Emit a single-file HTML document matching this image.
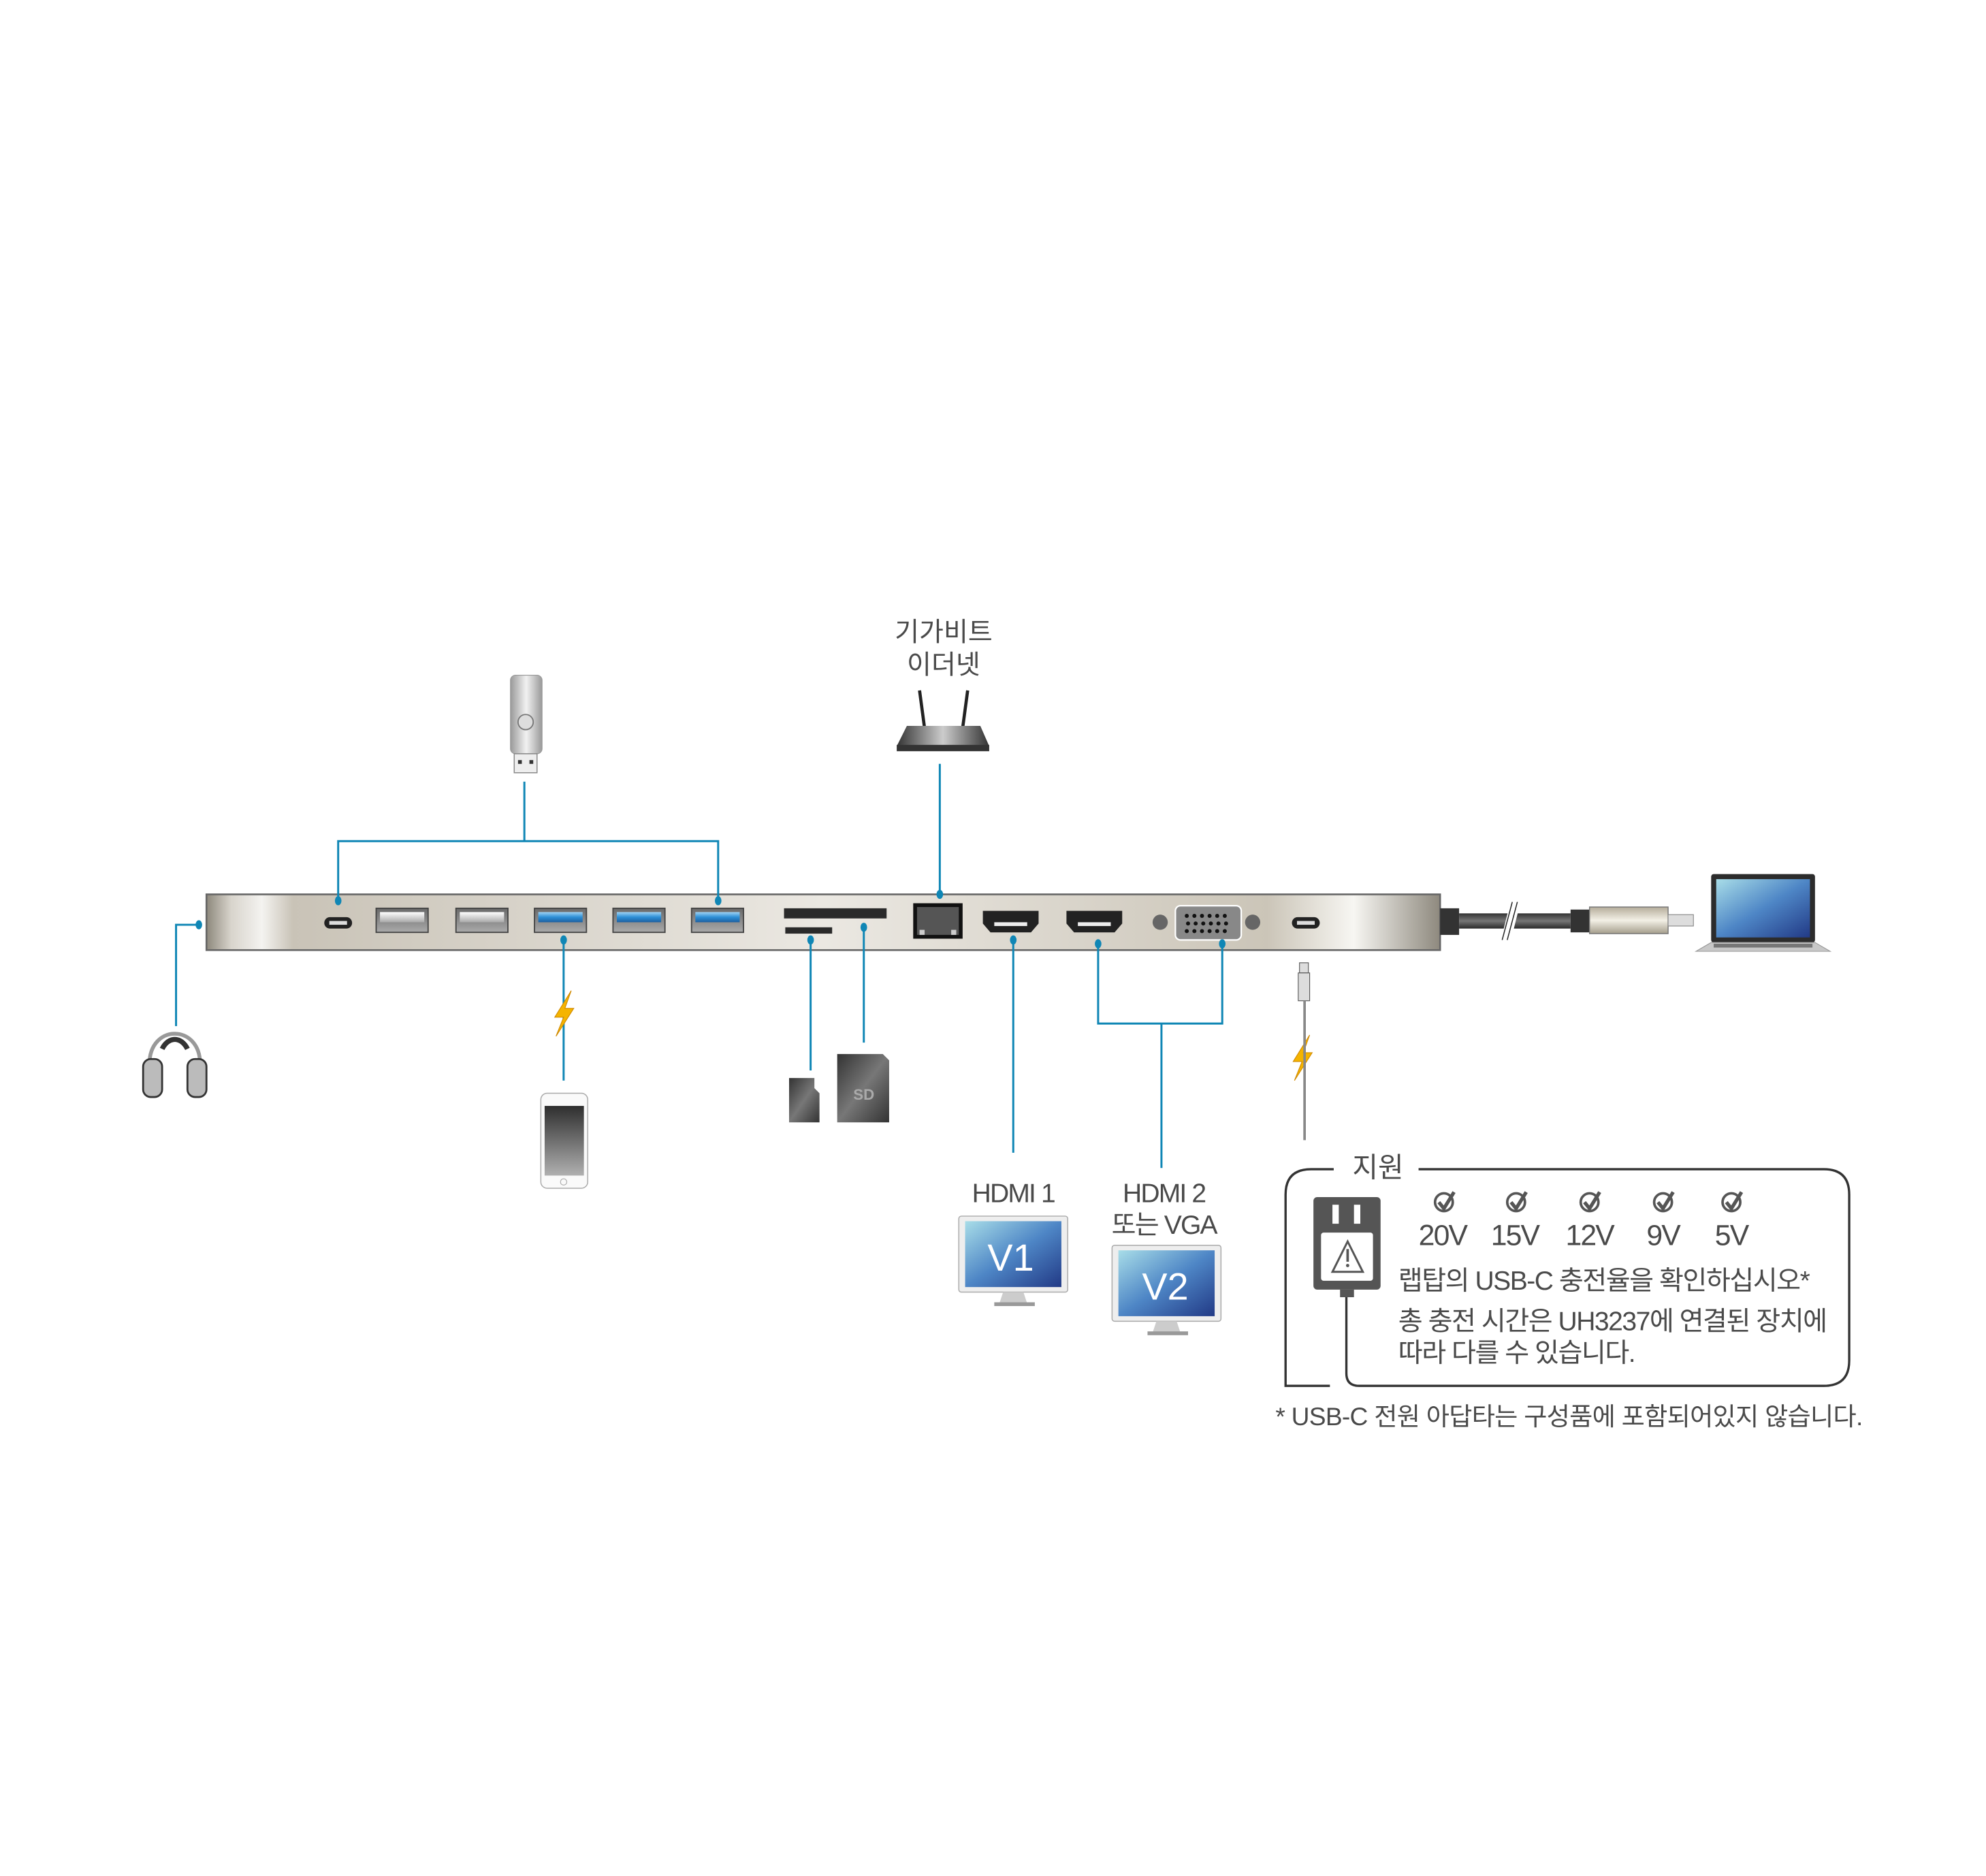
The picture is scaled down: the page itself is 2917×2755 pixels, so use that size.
<!DOCTYPE html>
<html><head><meta charset="utf-8">
<style>
html,body{margin:0;padding:0;background:#fff;}
svg{display:block;}
text{font-family:"Liberation Sans","Noto Sans CJK KR",sans-serif;fill:#4a4a4a;}
</style></head>
<body>
<svg width="2917" height="2755" viewBox="0 0 1568 1480.9" xmlns="http://www.w3.org/2000/svg">
<defs>
<linearGradient id="hub" x1="0" y1="0" x2="1" y2="0">
<stop offset="0" stop-color="#8d887c"/>
<stop offset="0.02" stop-color="#d8d4cc"/>
<stop offset="0.045" stop-color="#f4f3f0"/>
<stop offset="0.07" stop-color="#c9c3b7"/>
<stop offset="0.5" stop-color="#ebe8e2"/>
<stop offset="0.86" stop-color="#cbc5b8"/>
<stop offset="0.93" stop-color="#f7f6f2"/>
<stop offset="1" stop-color="#8e897e"/>
</linearGradient>
<linearGradient id="usbw" x1="0" y1="0" x2="0" y2="1"><stop offset="0" stop-color="#fff"/><stop offset="1" stop-color="#aaa"/></linearGradient>
<linearGradient id="usbb" x1="0" y1="0" x2="0" y2="1"><stop offset="0" stop-color="#9fd3f5"/><stop offset="0.5" stop-color="#2d8fd6"/><stop offset="1" stop-color="#1c5fa0"/></linearGradient>
<linearGradient id="port" x1="0" y1="0" x2="0" y2="1"><stop offset="0" stop-color="#6a6a6a"/><stop offset="1" stop-color="#aaa"/></linearGradient>
<linearGradient id="scr" x1="0" y1="0" x2="1" y2="1"><stop offset="0" stop-color="#a8dde8"/><stop offset="0.5" stop-color="#4e86c6"/><stop offset="1" stop-color="#223a86"/></linearGradient>
<linearGradient id="phone" x1="0" y1="0" x2="0" y2="1"><stop offset="0" stop-color="#2e2e2e"/><stop offset="1" stop-color="#b0b0b0"/></linearGradient>
<linearGradient id="card" x1="0" y1="0" x2="1" y2="1"><stop offset="0" stop-color="#333"/><stop offset="0.5" stop-color="#777"/><stop offset="1" stop-color="#333"/></linearGradient>
<linearGradient id="plug" x1="0" y1="0" x2="0" y2="1"><stop offset="0" stop-color="#b5ad9a"/><stop offset="0.5" stop-color="#f3f0e6"/><stop offset="1" stop-color="#a59e8c"/></linearGradient>
<linearGradient id="cable" x1="0" y1="0" x2="0" y2="1"><stop offset="0" stop-color="#333"/><stop offset="0.5" stop-color="#777"/><stop offset="1" stop-color="#2a2a2a"/></linearGradient>
<linearGradient id="stick" x1="0" y1="0" x2="1" y2="0"><stop offset="0" stop-color="#999"/><stop offset="0.5" stop-color="#f2f2f2"/><stop offset="1" stop-color="#999"/></linearGradient>
<linearGradient id="router" x1="0" y1="0" x2="1" y2="0"><stop offset="0" stop-color="#333"/><stop offset="0.5" stop-color="#ccc"/><stop offset="1" stop-color="#333"/></linearGradient>
<g id="bolt"><polygon points="6,-18 -7,3 0,3 -6,18 8,-4 1,-4" fill="#f5b400" stroke="#d08a00" stroke-width="0.6"/></g>
<g id="chk"><circle cx="0" cy="0" r="7" fill="none" stroke="#555" stroke-width="2"/><path d="M-4,0 L0,5 L8,-8" fill="none" stroke="#555" stroke-width="2.8"/></g>
</defs>

<rect x="163" y="706" width="974" height="44" fill="url(#hub)" stroke="#666" stroke-width="1.4"/>
<rect x="256" y="724" width="22" height="9" rx="4.5" fill="#222"/><rect x="260" y="727" width="14" height="3" fill="#ddd"/>
<g stroke="#444" stroke-width="1"><rect x="297" y="717" width="41" height="19" fill="url(#port)"/><rect x="360" y="717" width="41" height="19" fill="url(#port)"/><rect x="422" y="717" width="41" height="19" fill="url(#port)"/><rect x="484" y="717" width="41" height="19" fill="url(#port)"/><rect x="546" y="717" width="41" height="19" fill="url(#port)"/></g>
<rect x="300" y="720" width="35" height="8" fill="url(#usbw)"/><rect x="363" y="720" width="35" height="8" fill="url(#usbw)"/>
<rect x="425" y="720" width="35" height="8" fill="url(#usbb)"/><rect x="487" y="720" width="35" height="8" fill="url(#usbb)"/><rect x="549" y="720" width="35" height="8" fill="url(#usbb)"/>
<rect x="619" y="717" width="81" height="8" fill="#2a2a2a"/><rect x="620" y="732" width="37" height="5" fill="#2a2a2a"/>
<rect x="721" y="713" width="39" height="28" fill="#111"/><rect x="724" y="716" width="33" height="22" fill="#555"/><rect x="726" y="734" width="4" height="4" fill="#ccc"/><rect x="751" y="734" width="4" height="4" fill="#ccc"/>
<g><path d="M776,719 h44 v10 l-6,7 h-32 l-6,-7z" fill="#222"/><rect x="785" y="728" width="26" height="3" fill="#eee"/>
<path d="M842,719 h44 v10 l-6,7 h-32 l-6,-7z" fill="#222"/><rect x="851" y="728" width="26" height="3" fill="#eee"/></g>
<circle cx="916" cy="728" r="6" fill="#666"/><circle cx="989" cy="728" r="6" fill="#666"/>
<rect x="928" y="715" width="52" height="27" rx="4" fill="#888" stroke="#fff" stroke-width="1.2"/>
<g fill="#111"><circle cx="937" cy="723" r="1.6"/><circle cx="943" cy="723" r="1.6"/><circle cx="949" cy="723" r="1.6"/><circle cx="955" cy="723" r="1.6"/><circle cx="961" cy="723" r="1.6"/><circle cx="967" cy="723" r="1.6"/>
<circle cx="938" cy="729" r="1.6"/><circle cx="944" cy="729" r="1.6"/><circle cx="950" cy="729" r="1.6"/><circle cx="956" cy="729" r="1.6"/><circle cx="962" cy="729" r="1.6"/><circle cx="968" cy="729" r="1.6"/>
<circle cx="937" cy="735" r="1.6"/><circle cx="943" cy="735" r="1.6"/><circle cx="949" cy="735" r="1.6"/><circle cx="955" cy="735" r="1.6"/><circle cx="961" cy="735" r="1.6"/><circle cx="967" cy="735" r="1.6"/></g>
<rect x="1020" y="724" width="22" height="9" rx="4.5" fill="#222"/><rect x="1024" y="727" width="14" height="3" fill="#ddd"/>

<rect x="1137" y="717" width="15" height="21" fill="#333"/>
<rect x="1152" y="721" width="88" height="12" fill="url(#cable)"/>
<rect x="1240" y="718" width="15" height="18" fill="#333"/>
<rect x="1255" y="716" width="62" height="21" fill="url(#plug)" stroke="#777" stroke-width="0.8"/>
<rect x="1317" y="722" width="20" height="9" fill="#ddd" stroke="#888" stroke-width="0.6"/>
<rect x="1188" y="716" width="8" height="24" fill="#fff" transform="skewX(-14) translate(182,0)"/>
<line x1="1186" y1="742" x2="1194" y2="712" stroke="#222" stroke-width="0.8"/><line x1="1190" y1="742" x2="1198" y2="712" stroke="#222" stroke-width="0.8"/>
<rect x="1351" y="690" width="82" height="54" rx="2" fill="#2c2c2c"/>
<rect x="1355" y="694" width="74" height="46" fill="url(#scr)"/>
<path d="M1351,744 h82 l12,7 h-106z" fill="#c8c8c8" stroke="#999" stroke-width="0.6"/>
<rect x="1353" y="745" width="78" height="3" fill="#777"/>

<g stroke="#0f86b5" stroke-width="1.6" fill="none">
<polyline points="157,730 139,730 139,810"/>
<line x1="414" y1="617" x2="414" y2="664"/>
<polyline points="267,711 267,664 567,664 567,711"/>
<line x1="445" y1="742" x2="445" y2="853"/>
<line x1="640" y1="742" x2="640" y2="845"/>
<line x1="682" y1="732" x2="682" y2="823"/>
<line x1="742" y1="603" x2="742" y2="706"/>
<line x1="800" y1="742" x2="800" y2="910"/>
<polyline points="867,745 867,808 965,808 965,745"/>
<line x1="917" y1="808" x2="917" y2="922"/>
</g>
<g fill="#0f86b5"><ellipse cx="157" cy="730" rx="2.6" ry="3.6"/><ellipse cx="267" cy="711" rx="2.6" ry="3.6"/><ellipse cx="567" cy="711" rx="2.6" ry="3.6"/><ellipse cx="445" cy="742" rx="2.6" ry="3.6"/><ellipse cx="640" cy="742" rx="2.6" ry="3.6"/><ellipse cx="682" cy="732" rx="2.6" ry="3.6"/><ellipse cx="742" cy="706" rx="2.6" ry="3.6"/><ellipse cx="800" cy="742" rx="2.6" ry="3.6"/><ellipse cx="867" cy="745" rx="2.6" ry="3.6"/><ellipse cx="965" cy="745" rx="2.6" ry="3.6"/></g>

<path d="M118,840 C118,808 158,808 158,840" fill="none" stroke="#999" stroke-width="3"/>
<path d="M128,828 C133,818 143,818 148,828" fill="none" stroke="#333" stroke-width="4"/>
<rect x="113" y="836" width="15" height="30" rx="6" fill="#bbb" stroke="#333" stroke-width="1.5"/>
<rect x="148" y="836" width="15" height="30" rx="6" fill="#bbb" stroke="#333" stroke-width="1.5"/>

<rect x="403" y="533" width="25" height="62" rx="4" fill="url(#stick)" stroke="#999" stroke-width="0.6"/>
<circle cx="415" cy="570" r="6" fill="#ddd" stroke="#777"/>
<rect x="406" y="595" width="18" height="15" fill="#eee" stroke="#888" stroke-width="0.8"/>
<rect x="409" y="600" width="3" height="3" fill="#333"/><rect x="418" y="600" width="3" height="3" fill="#333"/>

<use href="#bolt" x="445" y="800"/>
<use href="#bolt" x="1028" y="835"/>

<rect x="427" y="863" width="37" height="75" rx="5" fill="#fafafa" stroke="#aaa" stroke-width="0.8"/>
<rect x="430" y="873" width="31" height="55" fill="url(#phone)"/>
<circle cx="445" cy="933" r="2.5" fill="none" stroke="#aaa" stroke-width="0.6"/>

<path d="M623,851 h20 v8 l4,4 v23 h-24z" fill="url(#card)"/>
<path d="M661,832 h36 l5,5 v49 h-41z" fill="url(#card)"/>
<text x="682" y="868" font-size="12" font-weight="bold" text-anchor="middle" style="fill:#aaa">SD</text>

<text x="745" y="506" font-size="21" text-anchor="middle">기가비트</text>
<text x="745" y="532" font-size="21" text-anchor="middle">이더넷</text>
<line x1="726" y1="545" x2="730" y2="575" stroke="#222" stroke-width="2.5"/>
<line x1="764" y1="545" x2="760" y2="575" stroke="#222" stroke-width="2.5"/>
<path d="M716,573 h58 l7,16 h-73z" fill="url(#router)"/>
<rect x="708" y="588" width="73" height="5" fill="#333"/>

<text x="800" y="949" font-size="21" text-anchor="middle" letter-spacing="-1">HDMI 1</text>
<rect x="757" y="960" width="86" height="60" rx="2" fill="#eee" stroke="#aaa" stroke-width="0.8"/>
<rect x="762" y="964" width="76" height="52" fill="url(#scr)"/>
<text x="798" y="1003" font-size="30" text-anchor="middle" style="fill:#fff">V1</text>
<path d="M792,1020 h16 l3,9 h-22z" fill="#ccc"/><rect x="785" y="1028" width="32" height="3" fill="#999"/>

<text x="919" y="949" font-size="21" text-anchor="middle" letter-spacing="-1">HDMI 2</text>
<text x="919" y="974" font-size="21" text-anchor="middle" letter-spacing="-1">또는 VGA</text>
<rect x="878" y="983" width="86" height="60" rx="2" fill="#eee" stroke="#aaa" stroke-width="0.8"/>
<rect x="883" y="987" width="76" height="52" fill="url(#scr)"/>
<text x="920" y="1026" font-size="30" text-anchor="middle" style="fill:#fff">V2</text>
<path d="M913,1043 h16 l3,9 h-22z" fill="#ccc"/><rect x="906" y="1051" width="32" height="3" fill="#999"/>

<rect x="1026" y="760" width="7" height="8" fill="#ddd" stroke="#555" stroke-width="0.6"/>
<rect x="1025" y="768" width="9" height="22" fill="#ddd" stroke="#555" stroke-width="0.6"/>
<line x1="1030" y1="790" x2="1030" y2="900" stroke="#888" stroke-width="2"/>

<path d="M1053,923 H1035 Q1015,923 1015,943 V1094 H1050" fill="none" stroke="#333" stroke-width="1.8"/>
<path d="M1120,923 H1440 Q1460,923 1460,943 V1074 Q1460,1094 1440,1094 H1073 Q1063,1094 1063,1084 V1020" fill="none" stroke="#333" stroke-width="1.8"/>
<text x="1088" y="929" font-size="22" text-anchor="middle">지원</text>
<rect x="1037" y="945" width="53" height="73" rx="3" fill="#555"/>
<rect x="1052" y="951" width="5" height="15" fill="#fff"/><rect x="1069" y="951" width="5" height="15" fill="#fff"/>
<rect x="1043" y="973" width="41" height="38" rx="2" fill="#fff"/>
<path d="M1064,980 L1076,1004 H1052z" fill="none" stroke="#555" stroke-width="1.6"/>
<rect x="1063" y="986" width="2" height="10" fill="#555"/><circle cx="1064" cy="999" r="1.3" fill="#555"/>
<rect x="1058" y="1018" width="11" height="6" fill="#555"/>
<use href="#chk" x="1140" y="949"/><use href="#chk" x="1197" y="949"/><use href="#chk" x="1255" y="949"/><use href="#chk" x="1313" y="949"/><use href="#chk" x="1367" y="949"/>
<g font-size="23" text-anchor="middle" letter-spacing="-1">
<text x="1139" y="983">20V</text><text x="1196" y="983">15V</text><text x="1255" y="983">12V</text><text x="1313" y="983">9V</text><text x="1367" y="983">5V</text></g>
<g font-size="21" letter-spacing="-0.8">
<text x="1104" y="1018">랩탑의 USB-C 충전율을 확인하십시오*</text>
<text x="1104" y="1050">총 충전 시간은 UH3237에 연결된 장치에</text>
<text x="1104" y="1075">따라 다를 수 있습니다.</text>
</g>
<text x="1007" y="1125" font-size="20" letter-spacing="-0.4">* USB-C 전원 아답타는 구성품에 포함되어있지 않습니다.</text>
</svg>
</body></html>
